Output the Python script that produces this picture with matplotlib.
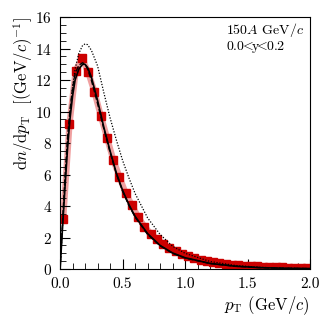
import matplotlib
matplotlib.use("Agg")
import matplotlib.pyplot as plt
from matplotlib.ticker import MultipleLocator

plt.rcParams["font.family"] = "serif"
plt.rcParams["font.serif"] = ["cmr10"]
plt.rcParams["mathtext.fontset"] = "cm"
plt.rcParams["axes.formatter.use_mathtext"] = True

# measured spectrum
pt_data = [0.025, 0.075, 0.125, 0.175, 0.225, 0.275, 0.325, 0.375, 0.425, 0.475,
           0.525, 0.575, 0.625, 0.675, 0.725, 0.775, 0.825, 0.875, 0.925, 0.975,
           1.025, 1.075, 1.125, 1.175, 1.225, 1.275, 1.325, 1.375, 1.425, 1.475,
           1.525, 1.575, 1.625, 1.675, 1.725, 1.775, 1.825, 1.875, 1.925, 1.975]
dn_data = [3.2, 9.2, 12.6, 13.4, 12.5, 11.25, 9.75, 8.35, 6.95, 5.85,
           4.8, 4.05, 3.3, 2.7, 2.25, 1.9, 1.6, 1.33, 1.12, 0.95,
           0.8, 0.68, 0.58, 0.5, 0.43, 0.37, 0.32, 0.28, 0.24, 0.21,
           0.185, 0.165, 0.145, 0.13, 0.115, 0.1, 0.09, 0.08, 0.075, 0.07]

# model curves
pt_curve = [0.0, 0.02, 0.04, 0.06, 0.08, 0.10, 0.12, 0.15, 0.18, 0.20, 0.22, 0.25,
            0.30, 0.35, 0.40, 0.45, 0.50, 0.55, 0.60, 0.70, 0.80, 0.90, 1.0,
            1.2, 1.4, 1.6, 1.8, 2.0]
solid = [0.0, 2.7, 5.3, 7.7, 9.6, 11.0, 12.0, 12.7, 13.0, 13.0, 12.8, 12.2,
         10.7, 9.0, 7.5, 6.1, 5.0, 4.1, 3.35, 2.25, 1.5, 1.02, 0.72,
         0.36, 0.18, 0.09, 0.05, 0.03]
dashed = [0.0, 3.1, 6.0, 8.4, 10.2, 11.5, 12.4, 12.95, 13.1, 13.0, 12.7, 12.0,
          10.5, 8.9, 7.4, 6.05, 4.95, 4.05, 3.3, 2.2, 1.48, 1.0, 0.7,
          0.35, 0.18, 0.09, 0.05, 0.03]
dotted = [0.0, 2.8, 5.5, 8.0, 10.0, 11.6, 12.7, 13.7, 14.2, 14.3, 14.25, 13.9,
          12.9, 11.2, 9.6, 8.2, 6.9, 5.8, 4.8, 3.25, 2.2, 1.45, 1.0,
          0.48, 0.23, 0.11, 0.05, 0.03]

fig = plt.figure(figsize=(3.32, 3.23), dpi=100)
ax = fig.add_axes([0.181, 0.167, 0.753, 0.78])

ax.plot(pt_data, dn_data, color="#ee9090", lw=4.5, alpha=0.85, zorder=1)
ax.plot(pt_data, dn_data, ls="none", marker="s", ms=5.5, color="#cc0000", zorder=2)
ax.plot(pt_curve, solid, color="black", lw=1.2, zorder=3)
ax.plot(pt_curve, dashed, color="black", lw=1.0, ls=(0, (4, 1.5)), zorder=3)
ax.plot(pt_curve, dotted, color="black", lw=0.9, ls=(0, (1, 1.3)), zorder=3)

ax.set_xlim(0, 2)
ax.set_ylim(0, 16)
ax.xaxis.set_major_locator(MultipleLocator(0.5))
ax.xaxis.set_minor_locator(MultipleLocator(0.1))
ax.yaxis.set_major_locator(MultipleLocator(2))
ax.yaxis.set_minor_locator(MultipleLocator(0.5))
ax.xaxis.set_major_formatter(matplotlib.ticker.FormatStrFormatter("%.1f"))
ax.tick_params(direction="in", which="both", top=False, right=False, labelsize=11)
ax.tick_params(which="major", length=7, pad=6)
ax.tick_params(which="minor", length=4)

ax.set_xlabel(r"$p_\mathrm{T}$ (GeV/$c$)", fontsize=12, loc="right", labelpad=2)
ax.set_ylabel(r"$\mathrm{d}n/\mathrm{d}p_\mathrm{T}$  $[(\mathrm{GeV}/c)^{-1}]$",
              fontsize=12, loc="top", labelpad=0)

ax.text(0.665, 0.985, r"150$A$ GeV/$c$", transform=ax.transAxes, ha="left", va="top", fontsize=10)
ax.text(0.665, 0.915, r"$\mathrm{0.0}\!\!<\!\!\mathrm{y}\!\!<\!\!\mathrm{0.2}$",
        transform=ax.transAxes, ha="left", va="top", fontsize=10)

fig.savefig("out.png", dpi=100)
